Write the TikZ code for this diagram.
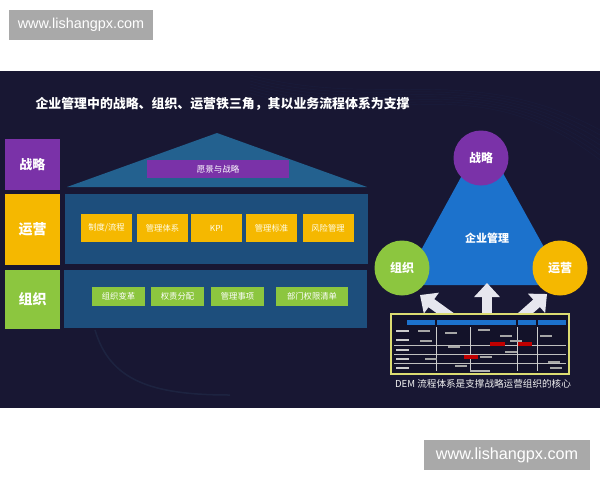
\documentclass[tikz,border=0pt]{standalone}
\usepackage{fontspec}
\setmainfont{Noto Sans CJK SC}
\newfontfamily\webfont{Liberation Sans}
\usetikzlibrary{arrows.meta}

\definecolor{bgnavy}{HTML}{181733}
\definecolor{panelblue}{HTML}{1D4E7C}
\definecolor{roofblue}{HTML}{23618F}
\definecolor{stpurple}{HTML}{7A32A8}
\definecolor{opyellow}{HTML}{F5B800}
\definecolor{orggreen}{HTML}{8CC63F}
\definecolor{triblue}{HTML}{1C72CC}
\definecolor{markgray}{HTML}{A9A9A9}
\definecolor{shotframe}{HTML}{DCDC72}
\definecolor{arrowwhite}{HTML}{E6E6EE}

\tikzset{
  sidebox/.style={minimum width=55pt,inner sep=0pt,text=white,font=\fontsize{13}{13}\selectfont\bfseries},
  panel/.style={fill=panelblue,inner sep=0pt},
  opbox/.style={fill=opyellow,minimum width=51pt,minimum height=28pt,inner sep=0pt,text=white!92!yellow,font=\fontsize{8.3}{8.3}\selectfont},
  orgbox/.style={fill=orggreen,minimum width=53pt,minimum height=19pt,inner sep=0pt,text=white,font=\fontsize{8.3}{8.3}\selectfont},
  ring/.style={circle,minimum size=55pt,inner sep=0pt,text=white,font=\fontsize{12}{12}\selectfont\bfseries},
  uparrow/.style={draw=arrowwhite,line width=10pt,-{Triangle[length=14pt,width=25pt]}},
  watermark/.style={fill=markgray,inner sep=0pt,text=white,font=\webfont}
}

\begin{document}
\begin{tikzpicture}[x=1pt,y=-1pt]
	\useasboundingbox[fill=white] (0,0) rectangle (600,480);
	\fill[bgnavy] (0,71) rectangle (600,408);
	% faint background curves
	\foreach \k in {0,...,6}
		\draw[cyan!40!blue,opacity=.08] (250,75+3*\k) .. controls (380,110+4*\k) and (470,60) .. (600,130+5*\k);
	\draw[cyan!60,opacity=.07,line width=1.5pt] (95,330) .. controls (110,380) and (150,395) .. (230,395);
	
	% watermarks
	\node[watermark,minimum width=144pt,minimum height=30pt,font=\webfont\fontsize{14.4}{14.4}\selectfont] (mark1) at (81,25) {www.lishangpx.com};
	\node[watermark,minimum width=166pt,minimum height=30pt,font=\webfont\fontsize{16.2}{16.2}\selectfont] (mark2) at (507,455) {www.lishangpx.com};
	
	\node[anchor=west,text=white,font=\fontsize{12.9}{12.9}\selectfont\bfseries] (title) at (32,104) {企业管理中的战略、组织、运营铁三角，其以业务流程体系为支撑};
	
	% left house
	\node[sidebox,fill=stpurple,minimum height=51pt] (strat) at (32.5,164.5) {战略};
	\node[sidebox,fill=opyellow,minimum height=71pt,font=\fontsize{14}{14}\selectfont\bfseries] (oper) at (32.5,229.5) {运营};
	\node[sidebox,fill=orggreen,minimum height=59pt,font=\fontsize{14}{14}\selectfont\bfseries] (org) at (32.5,299.5) {组织};
	
	\fill[roofblue] (67,187) -- (217,133) -- (367,187) -- cycle;
	\node[fill=stpurple,minimum width=142pt,minimum height=18pt,inner sep=0pt,text=white,font=\fontsize{8.5}{8.5}\selectfont] (vision) at (218,169) {愿景与战略};
	
	\node[panel,minimum width=303pt,minimum height=70pt] (operpanel) at (216.5,229) {};
	\node[panel,minimum width=303pt,minimum height=58pt] (orgpanel) at (215.5,299) {};
	
	\node[opbox] (op1) at (106.5,228) {制度/流程};
	\node[opbox] (op2) at (162.5,228) {管理体系};
	\node[opbox] (op3) at (216.5,228) {KPI};
	\node[opbox] (op4) at (271.5,228) {管理标准};
	\node[opbox] (op5) at (328,228) {风险管理};
	
	\node[orgbox] (og1) at (118.5,296.5) {组织变革};
	\node[orgbox] (og2) at (177.5,296.5) {权责分配};
	\node[orgbox] (og3) at (237.5,296.5) {管理事项};
	\node[orgbox,minimum width=72pt] (og4) at (312,296.5) {部门权限清单};
	
	% right triangle
	\fill[triblue] (483,137) -- (402,285) -- (565,285) -- cycle;
	\node[text=white,font=\fontsize{11}{11}\selectfont\bfseries] (core) at (487,238) {企业管理};
	\node[ring,fill=stpurple] (tstrat) at (481,158) {战略};
	\node[ring,fill=orggreen] (torg) at (402,268) {组织};
	\node[ring,fill=opyellow] (toper) at (560,268) {运营};
	
	% arrows
	\coordinate (leftfoot) at (452,318);
	\coordinate (lefttip) at (420,295);
	\coordinate (midfoot) at (487,318);
	\coordinate (midtip) at (487,283);
	\coordinate (rightfoot) at (520,318);
	\coordinate (righttip) at (547,294);
	\draw[uparrow] (leftfoot) -- (lefttip);
	\draw[uparrow] (midfoot) -- (midtip);
	\draw[uparrow] (rightfoot) -- (righttip);
	
	% process screenshot
	\node[draw=shotframe,line width=1.3pt,fill=bgnavy!80!black,minimum width=178pt,minimum height=60pt,inner sep=0pt] (shot) at (480,344) {};
	\fill[triblue] (407,320) rectangle (435,325);
	\fill[triblue] (437,320) rectangle (516,325);
	\fill[triblue] (518,320) rectangle (536,325);
	\fill[triblue] (538,320) rectangle (566,325);
	\foreach \y in {331,340,350,359,368}
		\fill[white!60!gray] (396,\y-.8) rectangle (409,\y+.8);
	\foreach \y in {345,354,363}
		\draw[gray!50,line width=.3pt] (394,\y) -- (566,\y);
	\foreach \x in {436,470,517,537}
		\draw[gray!40,line width=.3pt] (\x,327) -- (\x,371);
	\foreach \x/\y in {418/331,445/333,478/330,500/336,420/341,448/347,480/357,510/341,540/336,425/359,455/366,505/352,548/362,550/368}
		\fill[gray!70] (\x,\y-.6) rectangle (\x+12,\y+.6);
	\fill[red!75!black] (490,342) rectangle (505,346);
	\fill[red!75!black] (518,342) rectangle (532,346);
	\fill[red!75!black] (464,355) rectangle (478,359);
	\fill[gray!60] (470,370) rectangle (490,372);
	\node[text=white!90!gray,font=\fontsize{9.6}{9.6}\selectfont] (caption) at (483,384) {DEM 流程体系是支撑战略运营组织的核心};
\end{tikzpicture}
\end{document}
